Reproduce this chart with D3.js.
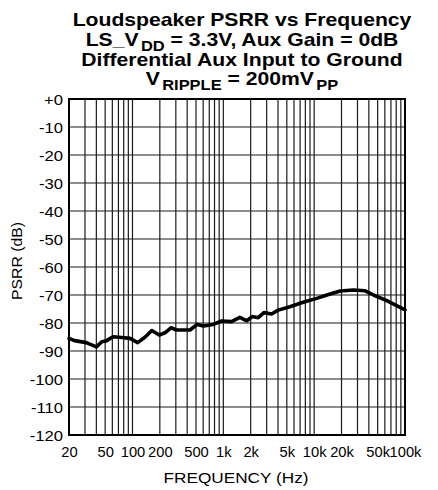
<!DOCTYPE html>
<html>
<head>
<meta charset="utf-8">
<script src="https://cdn.jsdelivr.net/npm/d3@7"></script>
<style>
  body { margin: 0; background: #fff; }
  text { font-family: "Liberation Sans", Arial, sans-serif; fill: #000; }
</style>
</head>
<body>
<svg id="chart"></svg>
<script>
// values
const freqs = [20, 23, 31, 40, 46, 52, 61, 76, 94, 114, 137, 163, 197, 228, 265, 306, 430,
               516, 604, 776, 958, 1230, 1520, 1810, 2080, 2420, 2800, 3400, 4020, 5400,
               7580, 10660, 14400, 19300, 27000, 36500, 45000, 63000, 100000]
const psrr = [-85.5, -86.3, -87.0, -88.5, -86.7, -86.3, -84.9, -85.2, -85.5, -87.0, -85.1,
              -82.7, -84.3, -83.5, -81.7, -82.5, -82.5, -80.5, -81.1, -80.5, -79.3, -79.5,
              -78.0, -79.2, -77.7, -78.1, -76.3, -76.8, -75.4, -74.2, -72.6, -71.2, -69.8,
              -68.6, -68.2, -68.5, -70.0, -72.0, -75.3]

const yTicks = [0, -10, -20, -30, -40, -50, -60, -70, -80, -90, -100, -110, -120]
const xTicks = [20, 50, 100, 200, 500, 1000, 2000, 5000, 10000, 20000, 50000, 100000]
const xTickLabels = ['20', '50', '100', '200', '500', '1k', '2k', '5k', '10k', '20k', '50k', '100k']

const svgWidth = 438
const svgHeight = 490
const margin = {top: 99, right: 33, bottom: 55, left: 69}
const width = svgWidth - margin.left - margin.right
const height = svgHeight - margin.top - margin.bottom

const svg = d3.select('#chart')
  .attr('width', svgWidth)
  .attr('height', svgHeight)

const x = d3.scaleLog().domain([20, 100000]).range([0, width])
const y = d3.scaleLinear().domain([-120, 0]).range([height, 0])

// the source image is a bit stretched sideways, so text gets widened too
function stretch(sel, k) {
  sel.each(function () {
    const w = this.getComputedTextLength()
    d3.select(this).attr('textLength', w * k).attr('lengthAdjust', 'spacingAndGlyphs')
  })
}

const g = svg.append('g').attr('transform', `translate(${margin.left},${margin.top})`)

// grid: every 1..9 step of each decade
const gridFreqs = []
for (let dec = 10; dec <= 10000; dec *= 10) {
  for (let m = 1; m <= 9; m++) {
    const f = dec * m
    if (f > 20 && f < 100000) gridFreqs.push(f)
  }
}

g.append('g')
  .selectAll('line')
  .data(gridFreqs)
  .enter()
  .append('line')
  .attr('x1', d => x(d)).attr('x2', d => x(d))
  .attr('y1', 0).attr('y2', height)
  .attr('stroke', '#1a1a1a')
  .attr('stroke-width', 1.2)

g.append('g')
  .selectAll('line')
  .data(yTicks.filter(d => d !== 0 && d !== -120))
  .enter()
  .append('line')
  .attr('x1', 0).attr('x2', width)
  .attr('y1', d => y(d)).attr('y2', d => y(d))
  .attr('stroke', '#1a1a1a')
  .attr('stroke-width', 1.2)

// axes (labels only, frame drawn separately)
const yAxis = g.append('g')
  .call(d3.axisLeft(y).tickValues(yTicks).tickSize(0).tickPadding(6)
    .tickFormat(d => d === 0 ? '+0' : String(d)))
yAxis.select('.domain').remove()
yAxis.selectAll('text')
  .style('font-size', '14px')
  .style('font-family', '"Liberation Sans", Arial, sans-serif')
  .attr('dy', '0.36em')
  .call(stretch, 1.19)

const xAxis = g.append('g')
  .attr('transform', `translate(0,${height})`)
  .call(d3.axisBottom(x).tickValues(xTicks).tickSize(0).tickPadding(0)
    .tickFormat((d, i) => xTickLabels[i]))
xAxis.select('.domain').remove()
xAxis.selectAll('text')
  .style('font-size', '14px')
  .style('font-family', '"Liberation Sans", Arial, sans-serif')
  .attr('y', 22)
  .attr('dy', 0)
  .call(stretch, 1.05)

// frame
g.append('rect')
  .attr('width', width)
  .attr('height', height)
  .attr('fill', 'none')
  .attr('stroke', '#000')
  .attr('stroke-width', 2)

// curve
const line = d3.line()
  .x((d, i) => x(freqs[i]))
  .y(d => y(d))

g.append('path')
  .datum(psrr)
  .attr('d', line)
  .attr('fill', 'none')
  .attr('stroke', '#000')
  .attr('stroke-width', 3.6)
  .attr('stroke-linejoin', 'round')
  .attr('stroke-linecap', 'round')

// axis titles
svg.append('text')
  .attr('x', 236)
  .attr('y', 483)
  .attr('text-anchor', 'middle')
  .style('font-size', '15px')
  .text('FREQUENCY (Hz)')
  .attr('textLength', 145)
  .attr('lengthAdjust', 'spacingAndGlyphs')

svg.append('text')
  .attr('transform', 'translate(21.5,261) rotate(-90)')
  .attr('text-anchor', 'middle')
  .style('font-size', '15px')
  .text('PSRR (dB)')
  .attr('textLength', 78)
  .attr('lengthAdjust', 'spacingAndGlyphs')

// title, four lines with subscripts
const titleLines = [
  [['Loudspeaker PSRR vs Frequency', false]],
  [['LS_V', false], ['DD', true], [' = 3.3V, Aux Gain = 0dB', false]],
  [['Differential Aux Input to Ground', false]],
  [['V', false], ['RIPPLE', true], [' = 200mV', false], ['PP', true]]
]
const titleBaselines = [26, 46, 66, 85]

const titleTexts = titleLines.map((parts, i) => {
  const tg = svg.append('g')
  const t = tg.append('text')
    .attr('text-anchor', 'middle')
    .style('font-size', '18px')
    .style('font-weight', 'bold')
  let down = false
  parts.forEach(([s, sub]) => {
    const ts = t.append('tspan').text(s)
    if (sub) {
      ts.style('font-size', '14px').attr('dy', down ? 0 : 5).attr('dx', 2)
      down = true
    } else {
      ts.attr('dy', down ? -5 : 0)
      down = false
    }
  })
  return {tg, t, i}
})

const k = 339 / titleTexts[0].t.node().getComputedTextLength()
titleTexts.forEach(({tg, i}) => {
  tg.attr('transform', `translate(242,${titleBaselines[i]}) scale(${k},1)`)
})
</script>
</body>
</html>
